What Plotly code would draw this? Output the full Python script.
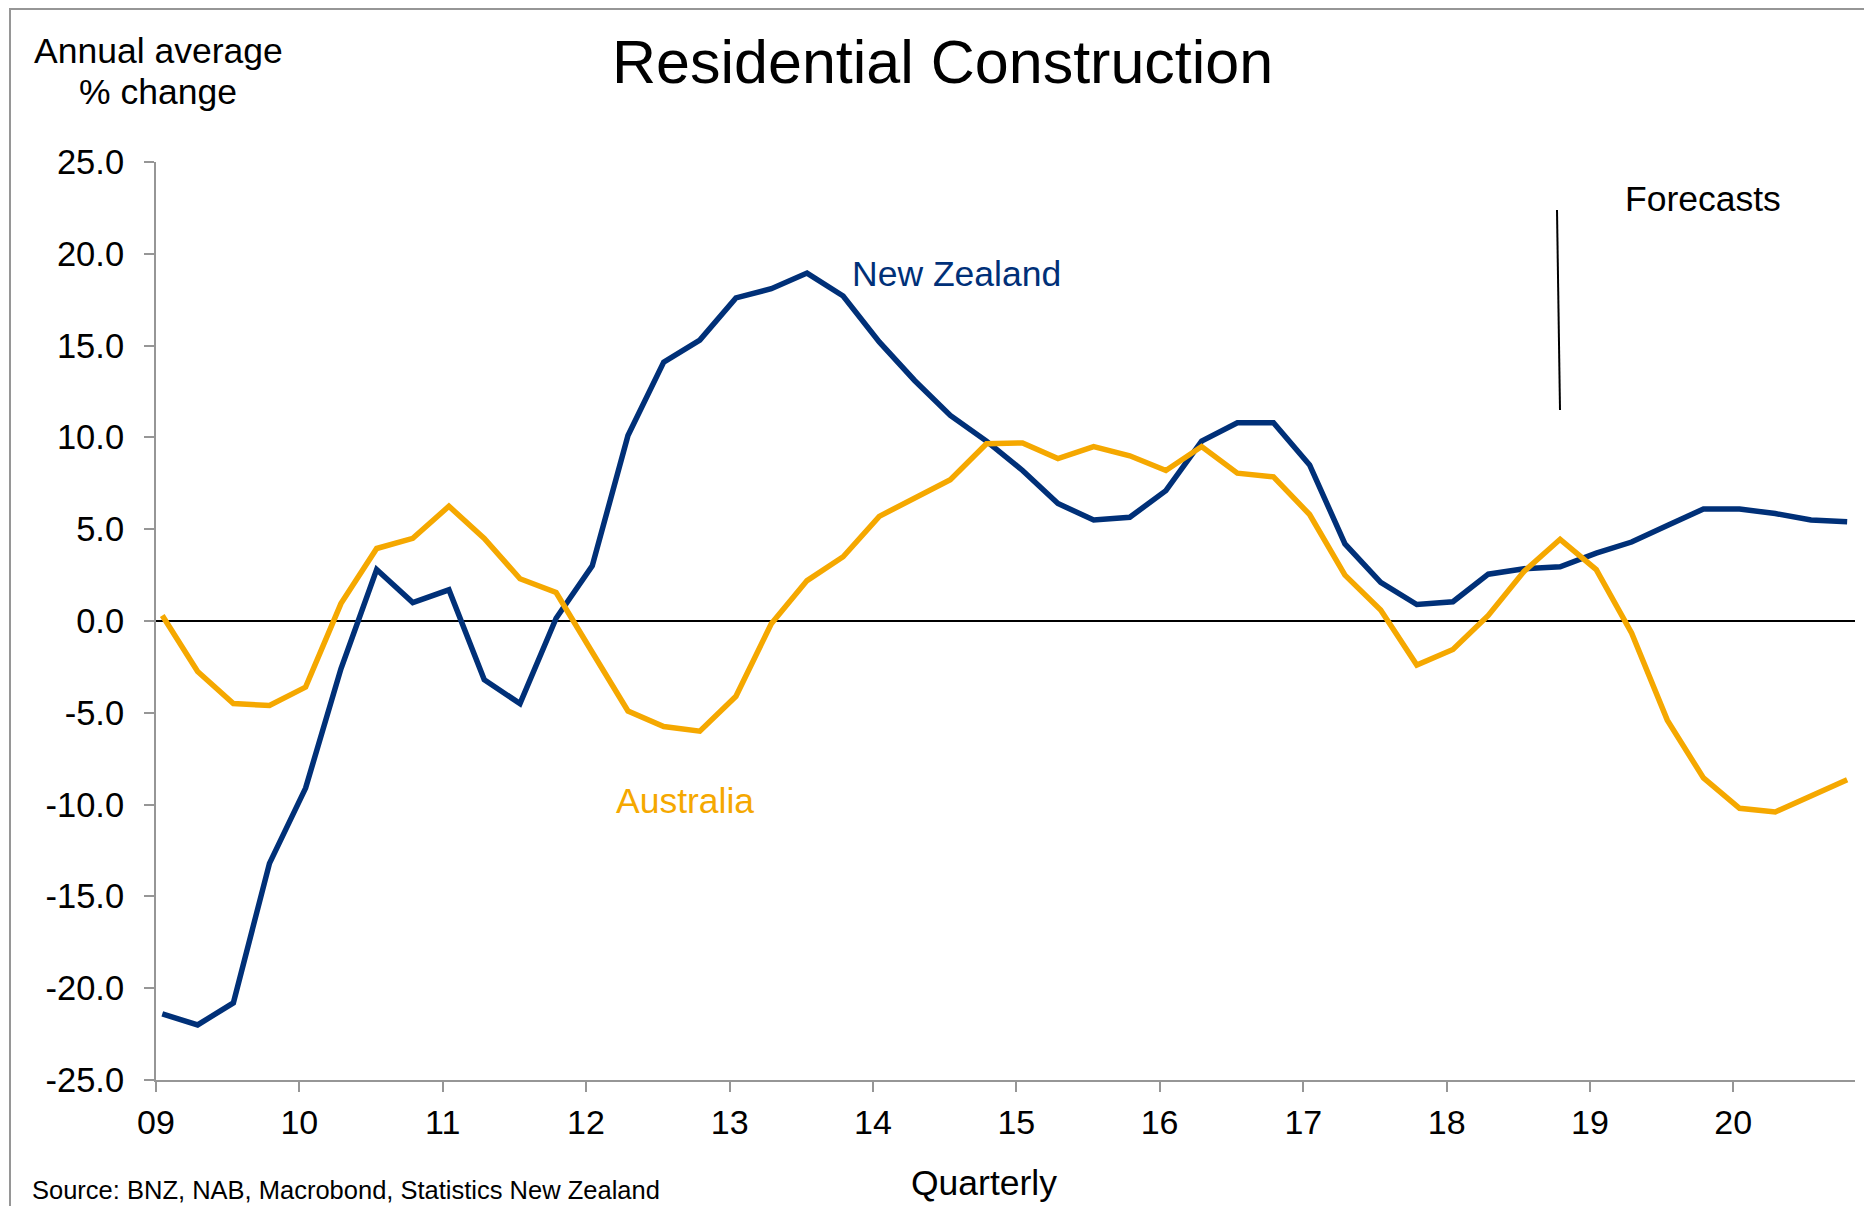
import pandas as pd
import plotly.graph_objects as go

# ---- data (annual average % change, quarterly, 2009Q1 - 2020Q4) ----
quarter_start = "2009-01-01"
n_quarters = 48

new_zealand = [
    -21.4, -22.0, -20.8, -13.2, -9.1, -2.6, 2.8, 1.0, 1.7, -3.2, -4.5, 0.15,
    3.0, 10.1, 14.1, 15.3, 17.6, 18.1, 18.95, 17.7, 15.2, 13.1, 11.2, 9.8,
    8.2, 6.4, 5.5, 5.65, 7.1, 9.8, 10.8, 10.8, 8.5, 4.2, 2.1, 0.9,
    1.05, 2.55, 2.85, 2.95, 3.7, 4.3, 5.2, 6.1, 6.1, 5.85, 5.5, 5.4,
]
australia = [
    0.3, -2.75, -4.5, -4.6, -3.6, 0.95, 3.95, 4.5, 6.25, 4.5, 2.3, 1.55,
    -1.7, -4.9, -5.75, -6.0, -4.1, -0.15, 2.2, 3.5, 5.7, 6.7, 7.7, 9.65,
    9.7, 8.85, 9.5, 9.0, 8.2, 9.5, 8.05, 7.85, 5.8, 2.5, 0.6, -2.4,
    -1.55, 0.3, 2.7, 4.45, 2.8, -0.65, -5.4, -8.55, -10.2, -10.4, -9.55, -8.65,
]
y_ticks = [25, 20, 15, 10, 5, 0, -5, -10, -15, -20, -25]

dates = pd.date_range(quarter_start, periods=n_quarters, freq="QS") + pd.Timedelta(days=16)

NAVY = "rgb(0,48,120)"
ORANGE = "rgb(245,168,0)"
AXIS = "rgb(150,150,150)"
FONT = "Liberation Sans, Arial, sans-serif"

PAGE_OFF = 8  # default body margin of the html page
W, H = 1872 - 2 * PAGE_OFF, 1214 - 2 * PAGE_OFF
L, T = 156 - PAGE_OFF, 162 - PAGE_OFF
R = W - (1855 - PAGE_OFF)
B = H - (1080 - PAGE_OFF)
PW, PH = W - L - R, H - T - B


def px(x, y):
    """page pixel -> paper coordinates"""
    xf, yf = x - PAGE_OFF, y - PAGE_OFF
    return (xf - L) / PW, (H - B - yf) / PH


fig = go.Figure()
fig.add_trace(go.Scatter(x=dates, y=new_zealand, mode="lines", name="New Zealand",
                         line=dict(color=NAVY, width=5.5), hoverinfo="x+y"))
fig.add_trace(go.Scatter(x=dates, y=australia, mode="lines", name="Australia",
                         line=dict(color=ORANGE, width=5.5), hoverinfo="x+y"))

fig.update_layout(
    width=W, height=H,
    margin=dict(l=L, r=R, t=T, b=B),
    paper_bgcolor="white", plot_bgcolor="white",
    showlegend=False,
    font=dict(family=FONT, color="black", size=34),
)

fig.update_xaxes(
    type="date", range=["2009-01-01", "2020-11-06"],
    tick0="2009-01-01", dtick="M12", tickformat="%y",
    showgrid=False, showline=True, linecolor=AXIS, linewidth=2,
    ticks="outside", ticklen=10, tickcolor=AXIS, tickwidth=1.5,
    tickfont=dict(size=34, family=FONT, color="black"),
    ticklabelstandoff=1,
    zeroline=False,
)
fig.update_yaxes(
    range=[-25, 25], tickvals=y_ticks, ticktext=[f"{v:.1f}" for v in y_ticks],
    showgrid=False, showline=True, linecolor=AXIS, linewidth=2,
    ticks="outside", ticklen=10, tickcolor=AXIS, tickwidth=1.5,
    tickfont=dict(size=34.5, family=FONT, color="black"),
    ticklabelstandoff=13,
    zeroline=True, zerolinecolor="black", zerolinewidth=2,
)

ann = []


def text(x, y, s, size=35, color="black", xanchor="center"):
    xp, yp = px(x, y)
    ann.append(dict(x=xp, y=yp, xref="paper", yref="paper", text=s, showarrow=False,
                    xanchor=xanchor, yanchor="middle",
                    font=dict(size=size, color=color, family=FONT)))


text(942, 62, "Residential Construction", size=61)
text(158, 51, "Annual average", size=35.5)
text(158, 92, "% change", size=35.5)
text(1703, 199, "Forecasts", size=35.5)
text(956, 274, "New Zealand", size=35.5, color=NAVY)
text(685, 801, "Australia", size=35.5, color=ORANGE)
text(984, 1183, "Quarterly", size=35.5)
text(30, 1190, "Source: BNZ, NAB, Macrobond, Statistics New Zealand", size=25.5, xanchor="left")
fig.update_layout(annotations=ann)

# forecast marker line
x0p, y0p = px(1557, 210)
x1p, y1p = px(1560, 410)
fig.add_shape(type="line", xref="paper", yref="paper", x0=x0p, y0=y0p, x1=x1p, y1=y1p,
              line=dict(color="black", width=2))
# outer frame
fx0, fy0 = px(10, 9)
fx1, fy1 = px(1890, 1240)
fig.add_shape(type="rect", xref="paper", yref="paper", x0=fx0, y0=fy0, x1=fx1, y1=fy1,
              line=dict(color=AXIS, width=2), layer="below")

fig.write_html("out.html")
